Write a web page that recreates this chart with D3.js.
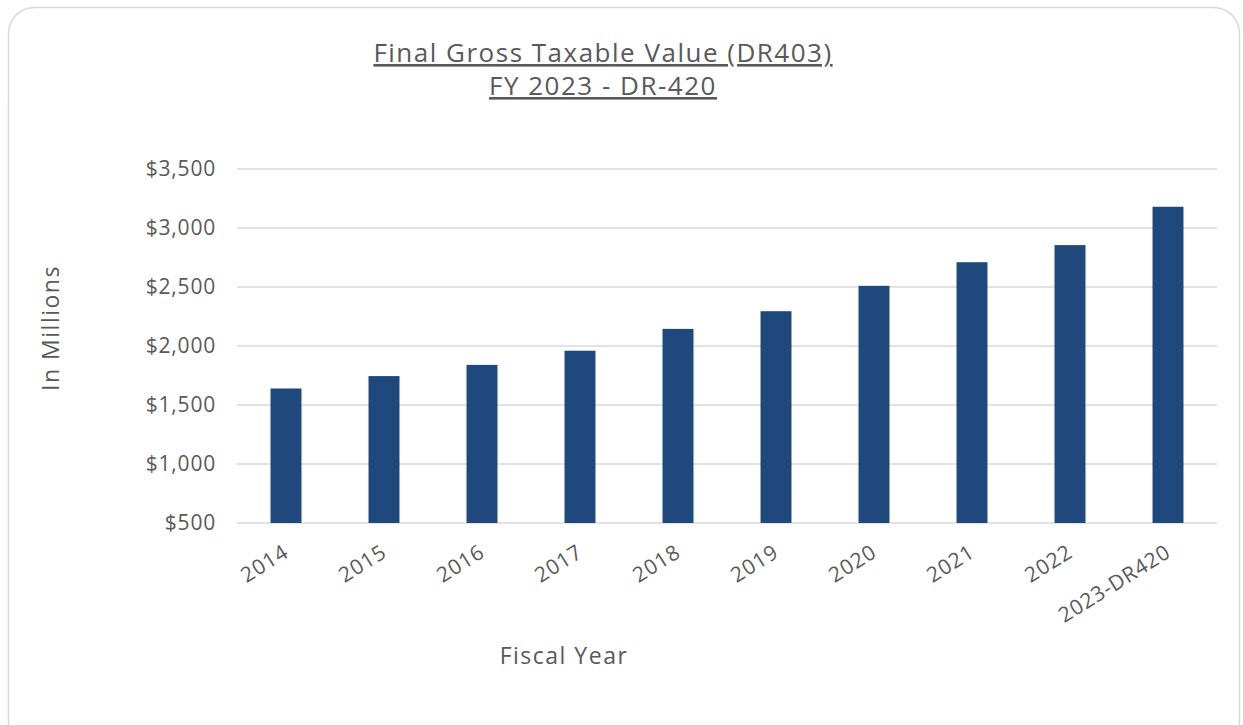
<!DOCTYPE html>
<html><head><meta charset="utf-8">
<script src="https://cdn.jsdelivr.net/npm/d3@7"></script>
<style>body{margin:0;background:#fff;font-family:"Open Sans",sans-serif;}</style>
</head><body>
<svg id="c" width="1243" height="725"></svg>
<script>
const categories = ["2014","2015","2016","2017","2018","2019","2020","2021","2022","2023-DR420"];
const values = [1640,1745,1840,1960,2145,2295,2510,2710,2855,3180];
const yTicks = [500,1000,1500,2000,2500,3000,3500];
const titleLines = ["Final Gross Taxable Value (DR403)","FY 2023 - DR-420"];
const yTitle = "In Millions";
const xTitle = "Fiscal Year";

const svg = d3.select("#c");
const txt = "#595959";
svg.append("rect").attr("x",8.5).attr("y",7.5).attr("width",1231).attr("height",740)
  .attr("rx",26).attr("fill","#fff").attr("stroke","#d9d9d9").attr("stroke-width",1.5);

const m = {l:237,r:1217,t:169,b:523};
const x = d3.scaleBand().domain(categories).range([m.l,m.r]).paddingInner(0.684).paddingOuter(0.342);
const y = d3.scaleLinear().domain([500,3500]).range([m.b,m.t]);

svg.append("g").selectAll("line").data(yTicks).join("line")
  .attr("x1",m.l).attr("x2",m.r).attr("y1",d=>y(d)).attr("y2",d=>y(d))
  .attr("stroke","#d9d9d9").attr("stroke-width",1.3);

svg.append("g").selectAll("rect").data(values).join("rect")
  .attr("x",(d,i)=>x(categories[i])).attr("width",x.bandwidth())
  .attr("y",d=>y(d)).attr("height",d=>y(500)-y(d)).attr("fill","#1f497d");

const fmt = d3.format("$,");
const ya = d3.axisLeft(y).tickValues(yTicks).tickFormat(fmt).tickSize(0).tickPadding(21);
const gy = svg.append("g").attr("transform",`translate(${m.l},0)`).call(ya);
gy.select(".domain").remove();
gy.selectAll("text").attr("fill",txt).style("font-size","21px").style("letter-spacing","0.8px").style("font-family","Open Sans");

const xa = d3.axisBottom(x).tickSize(0).tickPadding(0);
const gx = svg.append("g").attr("transform",`translate(0,${m.b})`).call(xa);
gx.select(".domain").remove();
gx.selectAll("text").attr("fill",txt).style("font-size","21px").style("letter-spacing","0.8px").style("font-family","Open Sans")
  .attr("text-anchor","end").attr("dy",0).attr("transform","translate(4,33) rotate(-32)");

const t = svg.append("text").attr("text-anchor","middle").attr("fill",txt)
  .style("font-size","26px").style("letter-spacing","1.5px").style("font-family","Open Sans").style("text-decoration","underline");
titleLines.forEach((s,i)=>t.append("tspan").attr("x",603).attr("y",62+i*33).text(s));

svg.append("text").attr("transform","translate(59,328) rotate(-90)").attr("text-anchor","middle")
  .attr("fill",txt).style("font-size","23px").style("letter-spacing","1.5px").style("font-family","Open Sans").text(yTitle);
svg.append("text").attr("x",564).attr("y",664).attr("text-anchor","middle")
  .attr("fill",txt).style("font-size","23px").style("letter-spacing","1.5px").style("font-family","Open Sans").text(xTitle);
</script>
</body></html>
